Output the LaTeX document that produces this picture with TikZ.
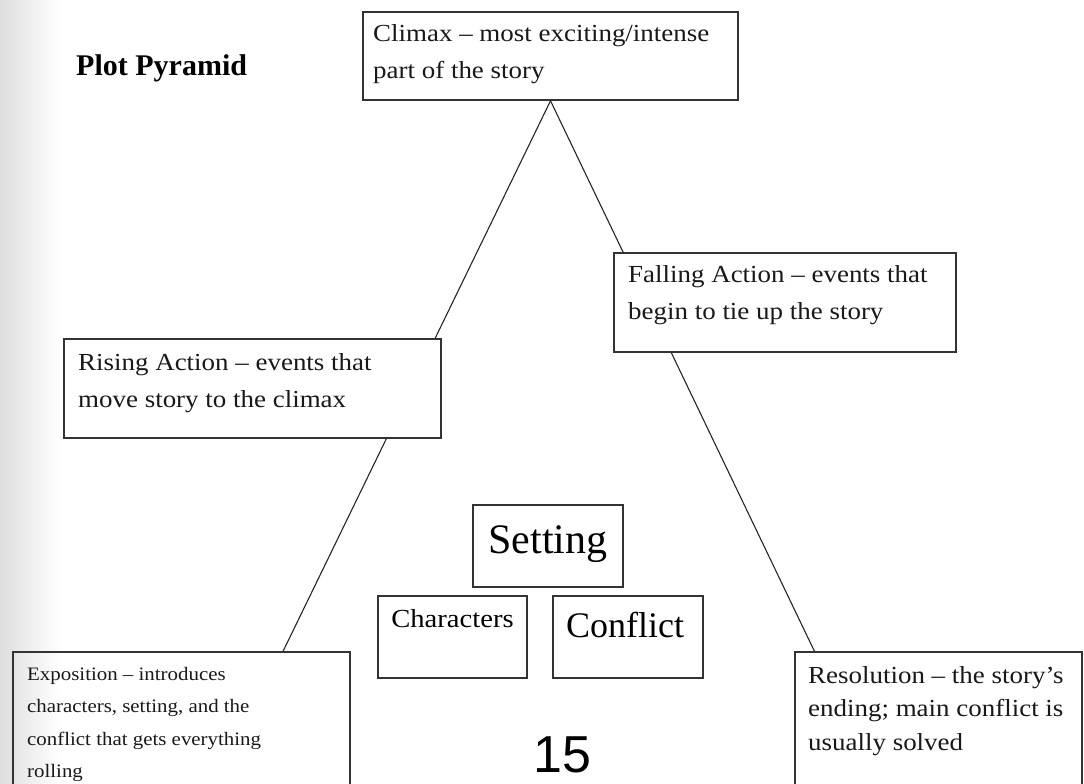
\documentclass[tikz,border=0pt]{standalone}
\usepackage{fontspec}
\setmainfont{Liberation Serif}
\newfontfamily\wideserif[FakeStretch=1.1]{Liberation Serif}
\newfontfamily\pagenumfont{Liberation Sans}
\usetikzlibrary{calc}
\usetikzlibrary{positioning}
\tikzset{plotbox/.style={draw=black!80, line width=1.6pt, rectangle, inner sep=0pt},
         boxtext/.style={anchor=base west, inner sep=0pt, align=left, text=black!90,
            font=\wideserif\fontsize{24.5}{37}\selectfont},
         link/.style={draw=black!85, line width=1.1pt}}

\begin{document}
\begin{tikzpicture}[x=1pt,y=-1pt]
\clip (0,0) rectangle (1084,784);
\fill[white] (0,0) rectangle (1084,784);
\shade[left color=black!13, right color=white] (0,0) rectangle (60,784);
%
\node [anchor=base west, inner sep=0pt, font=\bfseries\fontsize{30}{36}\selectfont] (title) at (76,75) {Plot Pyramid};
%
% text nodes sit on the baseline of their last line
\node [plotbox, minimum width=375pt, minimum height=88pt] (climax) at (550.5,56) {};
\node [boxtext] (climaxtxt) at (373,78) {Climax – most exciting/intense\\part of the story};
%
\node [plotbox, minimum width=377pt, minimum height=99pt] (rising) at (252.5,388.5) {};
\node [boxtext] (risingtxt) at (78,407.5) {Rising Action – events that\\move story to the climax};
%
\node [plotbox, minimum width=342pt, minimum height=99pt] (falling) at (785,302.5) {};
\node [boxtext] (fallingtxt) at (628,319.5) {Falling Action – events that\\begin to tie up the story};
%
\node [plotbox, minimum width=337pt, minimum height=148pt] (expo) at (181.5,726) {};
\node [boxtext, font=\wideserif\fontsize{19}{32.5}\selectfont] (expotxt) at (27,777.5)
    {Exposition – introduces\\characters, setting, and the\\conflict that gets everything\\rolling};
%
\node [plotbox, minimum width=287pt, minimum height=148pt] (resolution) at (938.5,726) {};
\node [boxtext, font=\wideserif\fontsize{24.5}{33.5}\selectfont] (resolutiontxt) at (808,750)
    {Resolution – the story’s\\ending; main conflict is\\usually solved};
%
\node [plotbox, minimum width=150pt, minimum height=82pt] (setting) at (548,546) {};
\node [anchor=base, inner sep=0pt, font=\fontsize{42}{50}\selectfont] (settingtxt) at (548,553) {Setting};
\node [plotbox, minimum width=149pt, minimum height=82pt] (characters) at (452.5,637) {};
\node [anchor=base, inner sep=0pt, font=\wideserif\fontsize{26}{30}\selectfont] (characterstxt) at (452.5,627) {Characters};
\node [plotbox, minimum width=150pt, minimum height=82pt] (conflict) at (628,637) {};
\node [anchor=base, inner sep=0pt, font=\fontsize{36}{42}\selectfont] (conflicttxt) at (625,637) {Conflict};
%
\node [anchor=base west, inner sep=0pt, font=\pagenumfont\fontsize{52}{60}\selectfont] (pagenum) at (533,772) {15};
%
\coordinate (expohit) at ($(expo.north west)!0.8!(expo.north east)$);
\coordinate (reshit) at ($(resolution.north west)!0.07!(resolution.north east)$);
\draw [link] (climax.south) -- (intersection of climax.south--expohit and rising.north west--rising.north east);
\draw [link] (intersection of climax.south--expohit and rising.south west--rising.south east) -- (expohit);
\draw [link] (climax.south) -- (intersection of climax.south--reshit and falling.north west--falling.north east);
\draw [link] (intersection of climax.south--reshit and falling.south west--falling.south east) -- (reshit);
\end{tikzpicture}
\end{document}
